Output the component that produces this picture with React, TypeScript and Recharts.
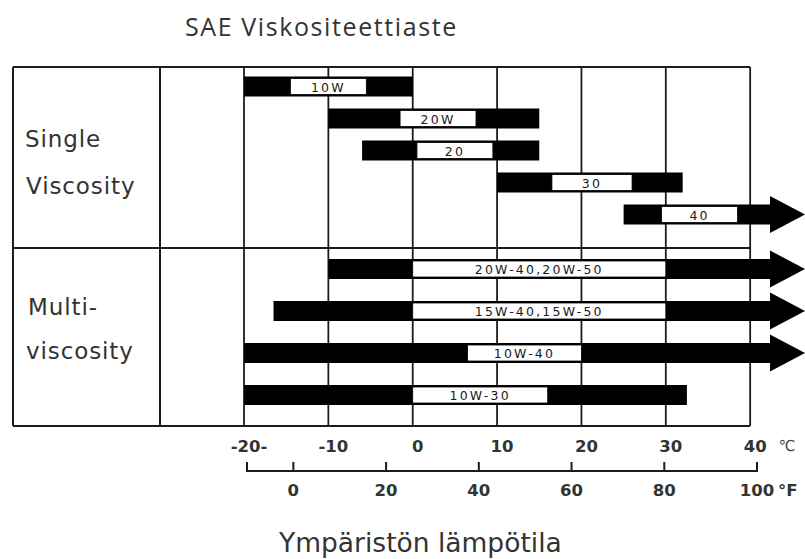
import React from "react";
import { Bar, BarChart, CartesianGrid, XAxis, YAxis } from "recharts";

// temperature scales
const celsiusTicks = [-20, -10, 0, 10, 20, 30, 40];
const fahrenheitTicks = [-10, 0, 20, 40, 60, 80, 100];
// right end of the °C axis, where the open-ended arrows stop
const AXIS_END = 46.5;

// single viscosity grades (°C ranges)
const singleGrades = ["10W", "20W", "20", "30", "40"];
const singleFrom = [-20, -10, -6, 10, 25];
const singleTo = [0, 15, 15, 32, AXIS_END];
const singleLabelFrom = [-14.5, -1.5, 0.5, 16.5, 29.5];
const singleLabelTo = [-5.5, 7.5, 9.5, 26, 38.5];
const singleOpen = [false, false, false, false, true];

// multi viscosity grades
const multiGrades = ["20W-40,20W-50", "15W-40,15W-50", "10W-40", "10W-30"];
const multiFrom = [-10, -16.5, -20, -20];
const multiTo = [AXIS_END, AXIS_END, AXIS_END, 32.5];
const multiLabelFrom = [0, 0, 6.5, 0];
const multiLabelTo = [30, 30, 20, 16];
const multiOpen = [true, true, true, false];

const toRows = (
  grades: string[],
  from: number[],
  to: number[],
  labelFrom: number[],
  labelTo: number[],
  open: boolean[]
) =>
  grades.map((grade, i) => ({
    grade,
    range: [from[i], to[i]],
    label: [labelFrom[i], labelTo[i]],
    open: open[i],
  }));

const singleRows = toRows(singleGrades, singleFrom, singleTo, singleLabelFrom, singleLabelTo, singleOpen);
const multiRows = toRows(multiGrades, multiFrom, multiTo, multiLabelFrom, multiLabelTo, multiOpen);

const INK = "#1c1c1c";
const TEXT = "#333";

/** Black range bar with a white name plate, arrow head when open-ended. */
function OilBar(props: any) {
  const { x, y, width, height, payload } = props;
  if (!payload) return null;
  const x0 = Math.min(x, x + width);
  const w = Math.abs(width);
  const [from, to] = payload.range;
  const toPx = (v: number) => x0 + ((v - from) / (to - from)) * w;
  const cy = y + height / 2;
  const head = 35;
  const half = 18.5;
  const bodyEnd = payload.open ? x0 + w - head : x0 + w;
  const bx1 = toPx(payload.label[0]);
  const bx2 = toPx(payload.label[1]);

  return (
    <g>
      <rect x={x0} y={y} width={bodyEnd - x0} height={height} fill="#000" />
      {payload.open && (
        <polygon
          points={`${bodyEnd},${cy - half} ${x0 + w},${cy} ${bodyEnd},${cy + half}`}
          fill="#000"
        />
      )}
      <rect
        x={bx1}
        y={y + 2}
        width={bx2 - bx1}
        height={height - 4}
        fill="#fff"
        stroke="#000"
        strokeWidth={0.8}
      />
      <text
        x={(bx1 + bx2) / 2}
        y={cy + 0.5}
        textAnchor="middle"
        dominantBaseline="central"
        fontFamily="DejaVu Sans"
        fontSize={12.5}
        letterSpacing={2.2}
        fill="#1a1a1a"
      >
        {payload.grade}
      </text>
    </g>
  );
}

function CelsiusTick(props: any) {
  const { x, y, payload } = props;
  const v = payload.value;
  const label = v === -20 ? "-20-" : String(v);
  return (
    <g>
      <text
        x={x + 5}
        y={y + 20}
        textAnchor="middle"
        dominantBaseline="central"
        fontFamily="DejaVu Sans"
        fontWeight="bold"
        fontSize={16.5}
        fill={TEXT}
      >
        {label}
      </text>
      {v === 40 && (
        <text
          x={x + 37}
          y={y + 20}
          textAnchor="middle"
          dominantBaseline="central"
          fontFamily="DejaVu Sans"
          fontSize={15}
          fill="#444"
        >
          ℃
        </text>
      )}
    </g>
  );
}

// the °F axis line is drawn tick to tick, so it stops at the end ticks
const fPrev = { x: 0 };
function FahrenheitTick(props: any) {
  const { x, y, payload, index } = props;
  const v = payload.value;
  const prevX = index === 0 ? x : fPrev.x;
  fPrev.x = x;
  return (
    <g>
      {index > 0 && <line x1={prevX} y1={y} x2={x} y2={y} stroke={INK} strokeWidth={2} />}
      <line x1={x} y1={y + 1} x2={x} y2={y - 9} stroke={INK} strokeWidth={2} />
      {v !== -10 && (
        <text
          x={x}
          y={y + 19}
          textAnchor="middle"
          dominantBaseline="central"
          fontFamily="DejaVu Sans"
          fontWeight="bold"
          fontSize={16.5}
          fill={TEXT}
        >
          {v}
        </text>
      )}
      {v === 100 && (
        <text
          x={x + 21}
          y={y + 19}
          textAnchor="start"
          dominantBaseline="central"
          fontFamily="DejaVu Sans"
          fontWeight="bold"
          fontSize={16.5}
          fill={TEXT}
        >
          °F
        </text>
      )}
    </g>
  );
}

const rowLabel = {
  fontFamily: "DejaVu Sans",
  fontSize: 23,
  letterSpacing: 0.9,
  fill: "#333",
};

export default function App() {
  return (
    <div
      style={{
        position: "absolute",
        left: 0,
        top: 0,
        width: 805,
        height: 559,
        background: "#fff",
      }}
    >
      {/* frame, section labels and titles */}
      <svg width={805} height={559} style={{ position: "absolute", left: 0, top: 0 }}>
        <text x={185} y={36} fontFamily="Open Sans" fontSize={25} letterSpacing={1.6} fill={TEXT}>
          SAE Viskositeettiaste
        </text>
        <g stroke={INK} strokeWidth={2}>
          <line x1={13} y1={67} x2={750} y2={67} />
          <line x1={13} y1={248} x2={750} y2={248} />
          <line x1={13} y1={426} x2={750} y2={426} />
          <line x1={13} y1={67} x2={13} y2={426} />
          <line x1={160} y1={67} x2={160} y2={426} />
        </g>
        <text x={25} y={147} {...rowLabel}>Single</text>
        <text x={26} y={194} {...rowLabel}>Viscosity</text>
        <text x={28} y={315} {...rowLabel}>Multi-</text>
        <text x={26} y={359} {...rowLabel}>viscosity</text>
        <text x={279} y={552} fontFamily="DejaVu Sans" fontSize={26.5} fill={TEXT}>
          Ympäristön lämpötila
        </text>
      </svg>

      <div style={{ position: "absolute", left: 0, top: 0 }}>
        <BarChart
          layout="vertical"
          width={805}
          height={248}
          data={singleRows}
          margin={{ top: 67, right: 0, bottom: 0, left: 244 }}
          barSize={20}
        >
          <CartesianGrid
            horizontal={false}
            verticalValues={celsiusTicks}
            syncWithTicks
            stroke={INK}
            strokeWidth={1.8}
          />
          <XAxis type="number" domain={[-20, AXIS_END]} ticks={celsiusTicks} interval={0} allowDataOverflow hide />
          <YAxis type="category" dataKey="grade" hide padding={{ top: 3.5, bottom: 17.5 }} />
          <Bar dataKey="range" shape={<OilBar />} isAnimationActive={false} />
        </BarChart>
      </div>

      <div style={{ position: "absolute", left: 0, top: 248 }}>
        <BarChart
          layout="vertical"
          width={805}
          height={311}
          data={multiRows}
          margin={{ top: 0, right: 0, bottom: 48, left: 244 }}
          barSize={20}
        >
          <CartesianGrid
            horizontal={false}
            verticalValues={celsiusTicks}
            syncWithTicks
            stroke={INK}
            strokeWidth={1.8}
          />
          <XAxis
            type="number"
            domain={[-20, AXIS_END]}
            ticks={celsiusTicks}
            interval={0}
            allowDataOverflow
            height={45}
            axisLine={false}
            tickLine={false}
            tickSize={0}
            tickMargin={0}
            tick={(p: any) => <CelsiusTick {...p} />}
          />
          <XAxis
            xAxisId="f"
            type="number"
            domain={[-10, 100]}
            ticks={fahrenheitTicks}
            interval={0}
            allowDataOverflow
            height={40}
            padding={{ left: 3, right: 48 }}
            axisLine={false}
            tickLine={false}
            tickSize={0}
            tickMargin={0}
            tick={(p: any) => <FahrenheitTick {...p} />}
          />
          <YAxis type="category" dataKey="grade" hide padding={{ top: 0, bottom: 10 }} />
          <Bar dataKey="range" shape={<OilBar />} isAnimationActive={false} />
        </BarChart>
      </div>
    </div>
  );
}
